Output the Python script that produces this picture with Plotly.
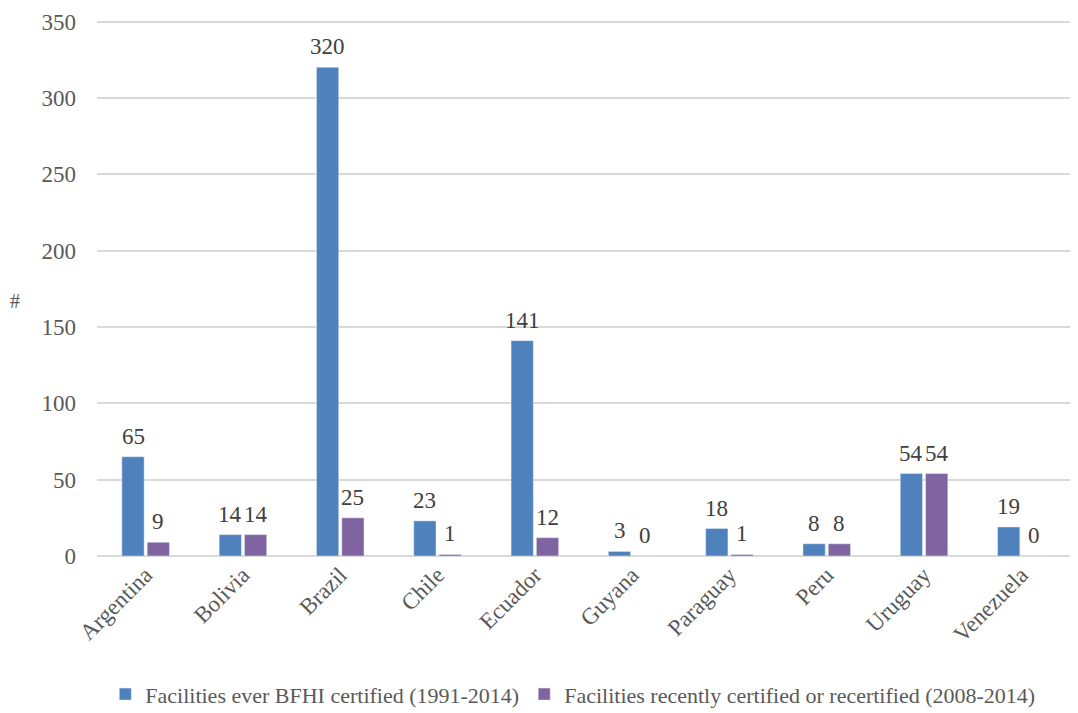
import plotly.graph_objects as go

countries = ["Argentina", "Bolivia", "Brazil", "Chile", "Ecuador", "Guyana",
             "Paraguay", "Peru", "Uruguay", "Venezuela"]
ever_certified = [65, 14, 320, 23, 141, 3, 18, 8, 54, 19]
recent_certified = [9, 14, 25, 1, 12, 0, 1, 8, 54, 0]
series_names = ["Facilities ever BFHI certified (1991-2014)",
                "Facilities recently certified or recertified (2008-2014)"]
y_ticks = [0, 50, 100, 150, 200, 250, 300, 350]

FONT = "Liberation Serif"
BARGAP = 0.48
fig = go.Figure()
for vals, name, col in [(ever_certified, series_names[0], "#4F81BD"),
                        (recent_certified, series_names[1], "#8064A2")]:
    fig.add_trace(go.Bar(x=countries, y=vals, name=name, marker=dict(color=col)))

# data labels above bars (positioned through the axes' scales)
W, H = 1070, 705
ML, MR, MT, MB = 89, 8, 12, 157
plot_w = W - ML - MR
slot = (1 - BARGAP) * plot_w / len(countries) / 2
annotations = []
for vals, sign in [(ever_certified, -1), (recent_certified, 1)]:
    for c, v in zip(countries, vals):
        annotations.append(dict(x=c, y=v, text=str(v), showarrow=False,
                                xanchor="center", yanchor="bottom",
                                xshift=sign * slot / 2, yshift=6,
                                font=dict(family=FONT, size=23, color="#404040")))
annotations.append(dict(text="#", xref="paper", yref="paper", x=-0.084, y=0.476,
                        xanchor="center", yanchor="middle", showarrow=False,
                        font=dict(family=FONT, size=20, color="#595959")))

fig.update_layout(
    width=W, height=H,
    margin=dict(l=ML, r=MR, t=MT, b=MB, autoexpand=False),
    plot_bgcolor="white", paper_bgcolor="white",
    barmode="group", bargap=BARGAP, bargroupgap=0.12,
    font=dict(family=FONT, size=23, color="#595959"),
    showlegend=True,
    legend=dict(orientation="h", x=0.489, xanchor="center", y=-0.258, yanchor="middle",
                font=dict(family=FONT, size=22, color="#595959"),
                itemwidth=30, traceorder="normal", tracegroupgap=0),
    xaxis=dict(tickangle=-45, showgrid=False, showline=False, ticks="",
               tickfont=dict(family=FONT, size=23, color="#595959")),
    yaxis=dict(range=[0, 351], tickvals=y_ticks, showgrid=True, gridcolor="#D9D9D9",
               gridwidth=1.5, zeroline=True, zerolinecolor="#D9D9D9", zerolinewidth=1.5,
               showline=False, ticks="", ticklen=0, ticklabeloverflow="allow",
               tickfont=dict(family=FONT, size=23, color="#595959")),
    annotations=annotations,
)
fig.update_yaxes(ticklabelstandoff=20)

fig.write_html("out.html")
